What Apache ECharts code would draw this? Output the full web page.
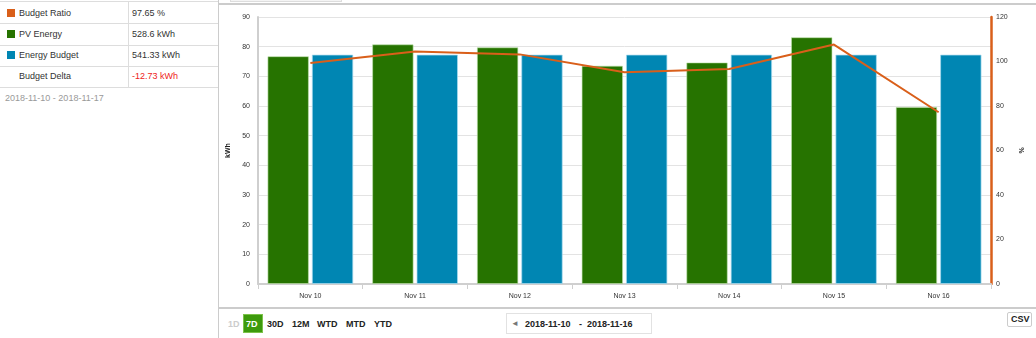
<!DOCTYPE html>
<html>
<head>
<meta charset="utf-8">
<script src="https://cdn.jsdelivr.net/npm/echarts@6/dist/echarts.min.js"></script>
<style>
  html, body { margin:0; padding:0; width:1036px; height:338px; overflow:hidden; background:#fff;
    font-family:"Liberation Sans", Arial, sans-serif; }
  .abs { position:absolute; }
  #chart { position:absolute; left:0; top:0; width:1036px; height:338px; z-index:2; }
  .t { position:absolute; font-size:9px; color:#333; white-space:nowrap; line-height:10px; }
  .sq { position:absolute; width:8px; height:8px; }
  .hl { position:absolute; height:1px; background:#ddd; }
  .vl { position:absolute; width:1px; background:#ddd; }
  .btn { position:absolute; font-size:9px; font-weight:bold; color:#222; line-height:10px; top:319px; white-space:nowrap; }
</style>
</head>
<body>
<!-- frame lines -->
<div class="hl" style="left:0;top:1px;width:218px;background:#ddd;"></div>
<div class="abs" style="left:230px;top:0;width:110px;height:1px;border:1px solid #ddd;border-top:none;background:#f4f4f4;"></div>
<div class="hl" style="left:218px;top:3px;width:818px;height:2px;background:#ccc;"></div>
<div class="vl" style="left:218px;top:0;height:338px;background:#ccc;"></div>
<div class="hl" style="left:218px;top:307px;width:818px;height:2px;background:#ccc;"></div>

<!-- summary table -->
<div class="hl" style="left:0;top:23px;width:218px;"></div>
<div class="hl" style="left:0;top:45px;width:218px;"></div>
<div class="hl" style="left:0;top:66px;width:218px;"></div>
<div class="hl" style="left:0;top:87px;width:218px;"></div>
<div class="vl" style="left:128px;top:2px;height:85px;"></div>

<div id="legendTable"></div>
<div class="t" style="left:5px;top:93px;color:#999;" id="rangeText"></div>

<!-- bottom controls -->
<div class="btn" style="left:228px;color:#ccc;">1D</div>
<div class="abs" style="left:243px;top:314px;width:20px;height:19px;background:#3d9a0c;border:1px solid #7cc24a;box-sizing:border-box;"></div>
<div class="btn" style="left:246px;color:#fff;">7D</div>
<div class="btn" style="left:267px;">30D</div>
<div class="btn" style="left:292px;">12M</div>
<div class="btn" style="left:317px;">WTD</div>
<div class="btn" style="left:346px;">MTD</div>
<div class="btn" style="left:374px;">YTD</div>

<div class="abs" style="left:506px;top:313px;width:146px;height:21px;border:1px solid #e2e2e2;box-sizing:border-box;"></div>
<div class="btn" style="left:511px;color:#777;font-size:8px;">&#9668;</div>
<div class="btn" style="left:525px;" id="dateFrom"></div>
<div class="btn" style="left:579px;">-</div>
<div class="btn" style="left:587px;" id="dateTo"></div>

<div class="abs" style="left:1007px;top:312px;width:25px;height:15px;border:1px solid #ccc;border-radius:2px;box-sizing:border-box;"></div>
<div class="btn" style="left:1011px;top:314px;">CSV</div>

<div id="chart"></div>
<script>
// ---- data ----
const categories = ['Nov 10','Nov 11','Nov 12','Nov 13','Nov 14','Nov 15','Nov 16'];
const pvEnergy = [76.8, 80.8, 79.8, 73.6, 74.7, 83.2, 59.7];
const energyBudget = [77.33, 77.33, 77.33, 77.33, 77.33, 77.33, 77.33];
const budgetRatio = [99.3, 104.5, 103.2, 95.2, 96.6, 107.6, 77.2];
const leftTicks = { min: 0, max: 90, interval: 10 };
const rightTicks = { min: 0, max: 120, interval: 20 };
const summaryRows = [
  { name: 'Budget Ratio', value: '97.65 %', color: '#d95f1a' },
  { name: 'PV Energy', value: '528.6 kWh', color: '#267300' },
  { name: 'Energy Budget', value: '541.33 kWh', color: '#0086b3' },
  { name: 'Budget Delta', value: '-12.73 kWh', color: null }
];
const rangeText = '2018-11-10 - 2018-11-17';
const dateFrom = '2018-11-10';
const dateTo = '2018-11-16';

const colors = { ratio: '#d95f1a', pv: '#267300', budget: '#0086b3' };

// ---- summary table ----
const lt = document.getElementById('legendTable');
const rowCenters = [13, 34, 55, 76];
summaryRows.forEach((r, i) => {
  const cy = rowCenters[i];
  if (r.color) {
    const s = document.createElement('div');
    s.className = 'sq'; s.style.left = '7px'; s.style.top = (cy - 4) + 'px'; s.style.background = r.color;
    lt.appendChild(s);
  }
  const n = document.createElement('div');
  n.className = 't'; n.style.left = '19px'; n.style.top = (cy - 5) + 'px'; n.textContent = r.name;
  lt.appendChild(n);
  const v = document.createElement('div');
  v.className = 't'; v.style.left = '132px'; v.style.top = (cy - 5) + 'px'; v.textContent = r.value;
  if (i === 3) v.style.color = '#ee2222';
  lt.appendChild(v);
});
document.getElementById('rangeText').textContent = rangeText;
document.getElementById('dateFrom').textContent = dateFrom;
document.getElementById('dateTo').textContent = dateTo;

// ---- chart ----
const chart = echarts.init(document.getElementById('chart'), null, { renderer: 'canvas' });
chart.setOption({
  animation: false,
  backgroundColor: 'transparent',
  textStyle: { fontFamily: '"Liberation Sans", Arial, sans-serif' },
  grid: { left: 258, right: 45, top: 17, bottom: 54, containLabel: false },
  xAxis: {
    type: 'category',
    data: categories,
    axisLine: { lineStyle: { color: '#cfcfcf', width: 2 } },
    axisTick: { show: true, length: 5, lineStyle: { color: '#cfcfcf' } },
    axisLabel: { fontSize: 7, color: '#333', margin: 9 }
  },
  yAxis: [
    {
      type: 'value', min: leftTicks.min, max: leftTicks.max, interval: leftTicks.interval,
      name: 'kWh', nameLocation: 'middle', nameRotate: 90, nameGap: 18,
      nameTextStyle: { fontSize: 7, color: '#222', fontWeight: 'bold' },
      axisLine: { show: true, lineStyle: { color: '#cfcfcf', width: 2 } },
      axisTick: { show: false },
      axisLabel: { fontSize: 7, color: '#333', margin: 8 },
      splitLine: { lineStyle: { color: '#e3e3e3', width: 1 } }
    },
    {
      type: 'value', min: rightTicks.min, max: rightTicks.max, interval: rightTicks.interval,
      name: '%', nameLocation: 'middle', nameRotate: 90, nameGap: 22,
      nameTextStyle: { fontSize: 7, color: '#222', fontWeight: 'bold' },
      position: 'right',
      axisLine: { show: true, lineStyle: { color: colors.ratio, width: 2.5 } },
      axisTick: { show: false },
      axisLabel: { fontSize: 7, color: '#333', margin: 5 },
      splitLine: { show: false }
    }
  ],
  series: [
    {
      name: 'PV Energy', type: 'bar', data: pvEnergy, yAxisIndex: 0,
      barCategoryGap: '18%', barGap: '7%',
      itemStyle: { color: colors.pv, borderColor: 'rgba(190,225,170,0.6)', borderWidth: 1 }
    },
    {
      name: 'Energy Budget', type: 'bar', data: energyBudget, yAxisIndex: 0,
      barCategoryGap: '18%', barGap: '7%',
      itemStyle: { color: colors.budget, borderColor: 'rgba(170,220,240,0.7)', borderWidth: 1 }
    },
    {
      name: 'Budget Ratio', type: 'line', data: budgetRatio, yAxisIndex: 1,
      showSymbol: false, symbol: 'none', z: 5,
      lineStyle: { color: colors.ratio, width: 2 }
    }
  ]
});
</script>
</body>
</html>
